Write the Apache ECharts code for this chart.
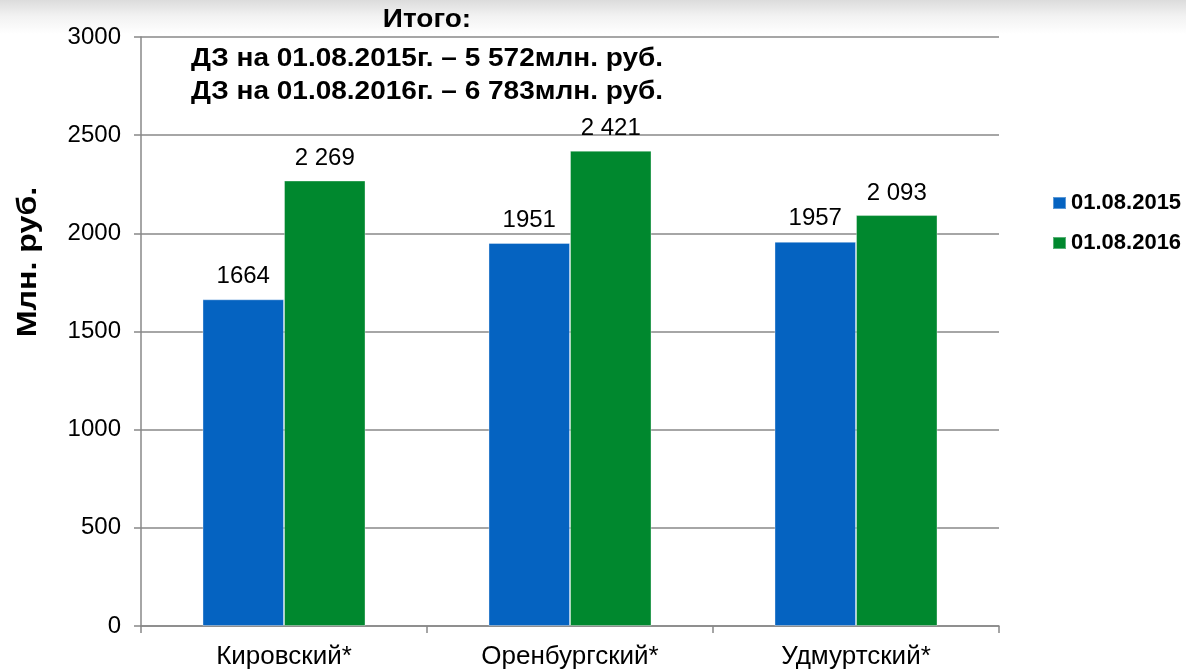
<!DOCTYPE html>
<html>
<head>
<meta charset="utf-8">
<script src="https://cdn.jsdelivr.net/npm/echarts@6/dist/echarts.min.js"></script>
<style>
html,body{margin:0;padding:0;}
body{width:1186px;height:670px;background:linear-gradient(to bottom,#dcdcdc 0px,#f2f2f2 16px,#ffffff 34px,#ffffff 100%);}
#chart{width:1186px;height:670px;}
</style>
</head>
<body>
<div id="chart"></div>
<script>
const categories = ['Кировский*', 'Оренбургский*', 'Удмуртский*'];
const seriesNames = ['01.08.2015', '01.08.2016'];
const values2015 = [1664, 1951, 1957];
const values2016 = [2269, 2421, 2093];
const yTicks = [0, 500, 1000, 1500, 2000, 2500, 3000];
const titleLines = ['Итого:', 'ДЗ на 01.08.2015г. – 5 572млн. руб.', 'ДЗ на 01.08.2016г. – 6 783млн. руб.'];
const yAxisTitle = 'Млн. руб.';

function spaced(v){ return String(v).replace(/\B(?=(\d{3})+(?!\d))/g, ' '); }

const chart = echarts.init(document.getElementById('chart'), null, {renderer:'canvas'});
const font = '"Liberation Sans", Arial, sans-serif';
chart.setOption({
  backgroundColor: 'transparent',
  animation: false,
  grid: {left: 141, right: 187, top: 37, bottom: 44},
  legend: {
    orient: 'vertical', left: 1047, top: 187, itemGap: 18,
    itemWidth: 13, itemHeight: 12, icon: 'rect',
    textStyle: {fontFamily: font, fontSize: 22, fontWeight: 'bold', color: '#000'},
    data: seriesNames
  },
  xAxis: {
    type: 'category', data: categories,
    axisLine: {lineStyle: {color: '#888888', width: 1.5}},
    axisTick: {show: true, length: 7, alignWithLabel: false, lineStyle: {color: '#888888', width: 1.5}},
    axisLabel: {fontFamily: font, fontSize: 26, color: '#000', margin: 18}
  },
  yAxis: {
    type: 'value', min: yTicks[0], max: yTicks[yTicks.length-1], interval: 500,
    axisLine: {show: true, lineStyle: {color: '#888888', width: 1.5}},
    axisTick: {show: true, length: 7, inside: false, lineStyle: {color: '#888888', width: 1.5}},
    axisLabel: {fontFamily: font, fontSize: 24, color: '#000', margin: 20, formatter: v => String(v)},
    splitLine: {lineStyle: {color: '#888888', width: 1.5}}
  },
  series: [
    {
      name: seriesNames[0], type: 'bar', data: values2015, barGap: '0%', barCategoryGap: '43%',
      itemStyle: {color: '#0563C1', borderColor: 'rgba(255,255,255,0.35)', borderWidth: 1},
      label: {show: true, position: 'top', distance: 11, fontFamily: font, fontSize: 24, color: '#000', formatter: p => String(p.value)}
    },
    {
      name: seriesNames[1], type: 'bar', data: values2016,
      itemStyle: {color: '#00882E', borderColor: 'rgba(255,255,255,0.35)', borderWidth: 1},
      label: {show: true, position: 'top', distance: 10, fontFamily: font, fontSize: 24, color: '#000', formatter: p => spaced(p.value)}
    }
  ],
  graphic: [
    {type: 'text', x: 427, y: 20, scaleX: 1.12, style: {text: titleLines[0], font: 'bold 25px ' + font, fill: '#000', textAlign: 'center', textVerticalAlign: 'middle'}},
    {type: 'text', x: 427, y: 59, scaleX: 1.12, style: {text: titleLines[1], font: 'bold 25px ' + font, fill: '#000', textAlign: 'center', textVerticalAlign: 'middle'}},
    {type: 'text', x: 427, y: 92, scaleX: 1.12, style: {text: titleLines[2], font: 'bold 25px ' + font, fill: '#000', textAlign: 'center', textVerticalAlign: 'middle'}},
    {type: 'text', x: 28, y: 262, rotation: Math.PI/2, scaleX: 1.15, style: {text: yAxisTitle, font: 'bold 28px ' + font, fill: '#000', textAlign: 'center', textVerticalAlign: 'middle'}}
  ]
});
</script>
</body>
</html>
